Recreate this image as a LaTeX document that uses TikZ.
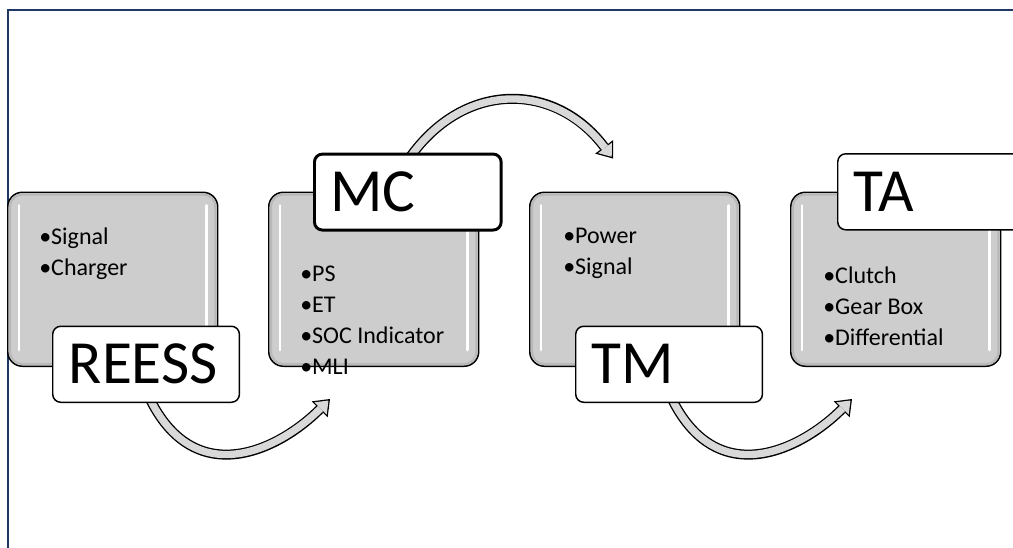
\documentclass[tikz,border=0pt]{standalone}
\usepackage{fontspec}
\setmainfont{Carlito}
\usetikzlibrary{arrows.meta, positioning}
\definecolor{framenavy}{HTML}{1F3864}
\definecolor{cardgray}{HTML}{CDCDCD}
\pgfdeclarelayer{bg}
\pgfsetlayers{bg,main}

\tikzset{
  card/.style={draw=black, line width=1.1pt, fill=cardgray, rounded corners=11pt,
    minimum width=157.5pt, minimum height=130.5pt, inner sep=0pt},
  bevel/.style={draw=gray!55, line width=1.6pt, rounded corners=9pt},
  shine/.style={draw=white, line width=2.2pt, line cap=round},
  items/.style={inner sep=0pt, align=left, font=\fontsize{18}{23.25}\selectfont},
  tag/.style={draw=black, line width=1.1pt, fill=white, rounded corners=6pt,
    minimum height=57pt, text width=116pt, inner xsep=12pt, align=left,
    font=\fontsize{46}{50}\selectfont},
  flow/.style={draw=gray!30, line width=5.5pt,
    -{Triangle[length=8.4pt,width=13pt,line width=0pt]}, shorten >=1.6pt,
    preaction={draw=black, line width=7.5pt,
      -{Triangle[length=11pt,width=17pt,line width=0pt]}, shorten >=0pt}},
}

\begin{document}
\begin{tikzpicture}[x=0.75pt, y=0.75pt]
  \useasboundingbox (0,0) rectangle (1013,547);
  \clip (0,0) rectangle (1013,547);

  % frame
  \draw[framenavy, line width=1.9pt] (8,-5) -- (8,537) -- (1020,537);

  % grey cards
  \node[card, anchor=south west] (b1) at (7,180) {};
  \node[card, anchor=south west] (b2) at (268,180) {};
  \node[card, anchor=south west] (b3) at (529,180) {};
  \node[card, anchor=south west] (b4) at (790,180) {};
  \foreach \b in {b1,b2,b3,b4} {
    \draw[bevel] ([shift={(3,3)}]\b.south west) rectangle ([shift={(-3,-3)}]\b.north east);
    \draw[shine] ([shift={(12,-14)}]\b.north west) -- ([shift={(12,17)}]\b.south west);
    \draw[shine] ([shift={(-12,-14)}]\b.north east) -- ([shift={(-12,17)}]\b.south east);
  }

  % bullet lists
  \node[items, anchor=north west] (l1) at ([shift={(32,-36)}]b1.north west) {•Signal\\•Charger};
  \node[items, anchor=north west] (l2) at ([shift={(32,-74)}]b2.north west) {•PS\\•ET\\•SOC Indicator\\•MLI};
  \node[items, anchor=north west] (l3) at ([shift={(34,-36)}]b3.north west) {•Power\\•Signal};
  \node[items, anchor=north west] (l4) at ([shift={(33,-75)}]b4.north west) {•Clutch\\•Gear Box\\•Differential};

  % titles
  \node[tag, anchor=south west] (reess) at ([shift={(45,-36)}]b1.south west) {REESS};
  \node[tag, anchor=south west, line width=2.2pt] (mc) at ([shift={(45,-40)}]b2.north west) {MC};
  \node[tag, anchor=south west] (tm) at ([shift={(46,-36)}]b3.south west) {TM};
  \node[tag, anchor=south west] (ta) at ([shift={(47,-39)}]b4.north west) {TA};

  % curved arrows
  \begin{pgfonlayer}{bg}
    \draw[flow] ([shift={(96,8)}]reess.south west) .. controls +(-65:108) and +(225:72) .. ([shift={(62,-32)}]b2.south west);
    \draw[flow] ([shift={(96,-6)}]mc.north west) .. controls +(55:96) and +(127:96) .. ([shift={(84,33)}]b3.north west);
    \draw[flow] ([shift={(95,8)}]tm.south west) .. controls +(-65:108) and +(225:72) .. ([shift={(62,-32)}]b4.south west);
  \end{pgfonlayer}
\end{tikzpicture}
\end{document}
